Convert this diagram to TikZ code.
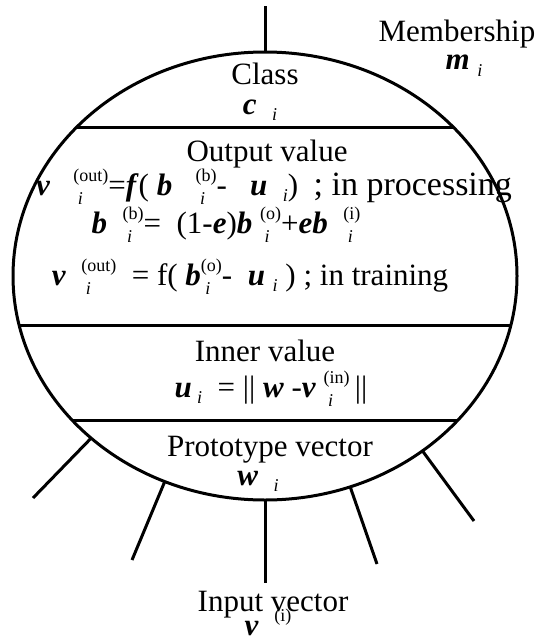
\documentclass[tikz,border=0pt]{standalone}
\usepackage{fontspec}
\setmainfont{Liberation Serif}
\usepackage{tikz}
\usetikzlibrary{shapes.geometric}

% bold italic variable, lowered index, stacked index/superscript
\newcommand{\vb}[1]{\textbf{\textit{#1}}}
\newcommand{\idx}[1]{\raisebox{-0.45ex}{\fontsize{9}{9}\selectfont\itshape #1}}
\newcommand{\idxsup}[2]{\rlap{\raisebox{-0.7ex}{\fontsize{9}{9}\selectfont\itshape\hspace{0.25em}#1}}\raisebox{0.95ex}{\fontsize{9}{9}\selectfont #2}}

\begin{document}
\begin{tikzpicture}[x=0.5pt, y=-0.5pt,
        rule/.style={line width=1.5pt},
        lbl/.style={inner sep=0pt, anchor=base, font=\fontsize{15.5}{18}\selectfont}]
            \useasboundingbox (0,0) rectangle (536,642);

            % Draw the cell body
            \node[draw, ellipse, rule, inner sep=0pt, outer sep=0pt,
                  minimum width=252pt, minimum height=224pt] (cell) at (265,276) {};

            % Split the body into its parts
            \begin{scope}
                \clip (cell.center) ellipse [x radius=126pt, y radius=112pt];
                \foreach \y in {128, 325, 420} {
                        \draw[rule] (0,\y) -- (536,\y);
                    }
            \end{scope}

            % Output line on top
            \coordinate (outtop) at (265,6);
            \draw[rule] (cell.north) -- (outtop);

            % Input lines below
            \foreach \i/\ang/\ex/\ey in {1/223/33/498, 2/244.9/132/560, 3/270/265/583,
                    4/292.4/377/564, 5/312.3/474/521}
                {
                    \coordinate (in\i) at (\ex,\ey);
                    \draw[rule] (cell.\ang) -- (in\i);
                }

            % Labels
            \node[lbl] (memb) at (457,42) {Membership};
            \node[lbl] (memi) at (464,70) {\vb{m}\ \idx{i}};
            \node[lbl] (class) at (265,84) {Class};
            \node[lbl] (classi) at (260,114) {\vb{c}\ \ \idx{i}};
            \node[lbl] (outv) at (267,162) {Output value};
            \node[lbl] (proc) at (274,195) {\vb{v}\ \ \ \idxsup{i}{(out)}=\vb{f}(\ \vb{b}\ \ \ \idxsup{i}{(b)}-\ \ \ \vb{u}\ \ \idx{i})\ \ {\fontsize{17}{18}\selectfont ; in processing}};
            \node[lbl] (bias) at (226,233) {\vb{b}\ \ \idxsup{i}{(b)}=\ \ (1-\vb{e})\vb{b}\ \idxsup{i}{(o)}+\vb{eb}\ \ \idxsup{i}{(i)}};
            \node[lbl] (train) at (250,285) {\vb{v}\ \ \idxsup{i}{(out)}\ \ = f( \vb{b}\idxsup{i}{(o)}-\ \ \vb{u}\ \idx{i}\ ) ; in training};
            \node[lbl] (innv) at (265,361) {Inner value};
            \node[lbl] (dist) at (271,397) {\vb{u}\,\idx{i}\ \ = || \vb{w}\ -\vb{v}\ \idxsup{i}{(in)}\,||};
            \node[lbl] (proto) at (270,456) {Prototype vector};
            \node[lbl] (protoi) at (258,485) {\vb{w}\ \ \idx{i}};
            \node[lbl] (inp) at (273,611) {Input vector};
            \node[lbl] (inpv) at (268,635) {\vb{v}\ \ \raisebox{0.95ex}{\fontsize{9}{9}\selectfont (i)}};

        \end{tikzpicture}
\end{document}
